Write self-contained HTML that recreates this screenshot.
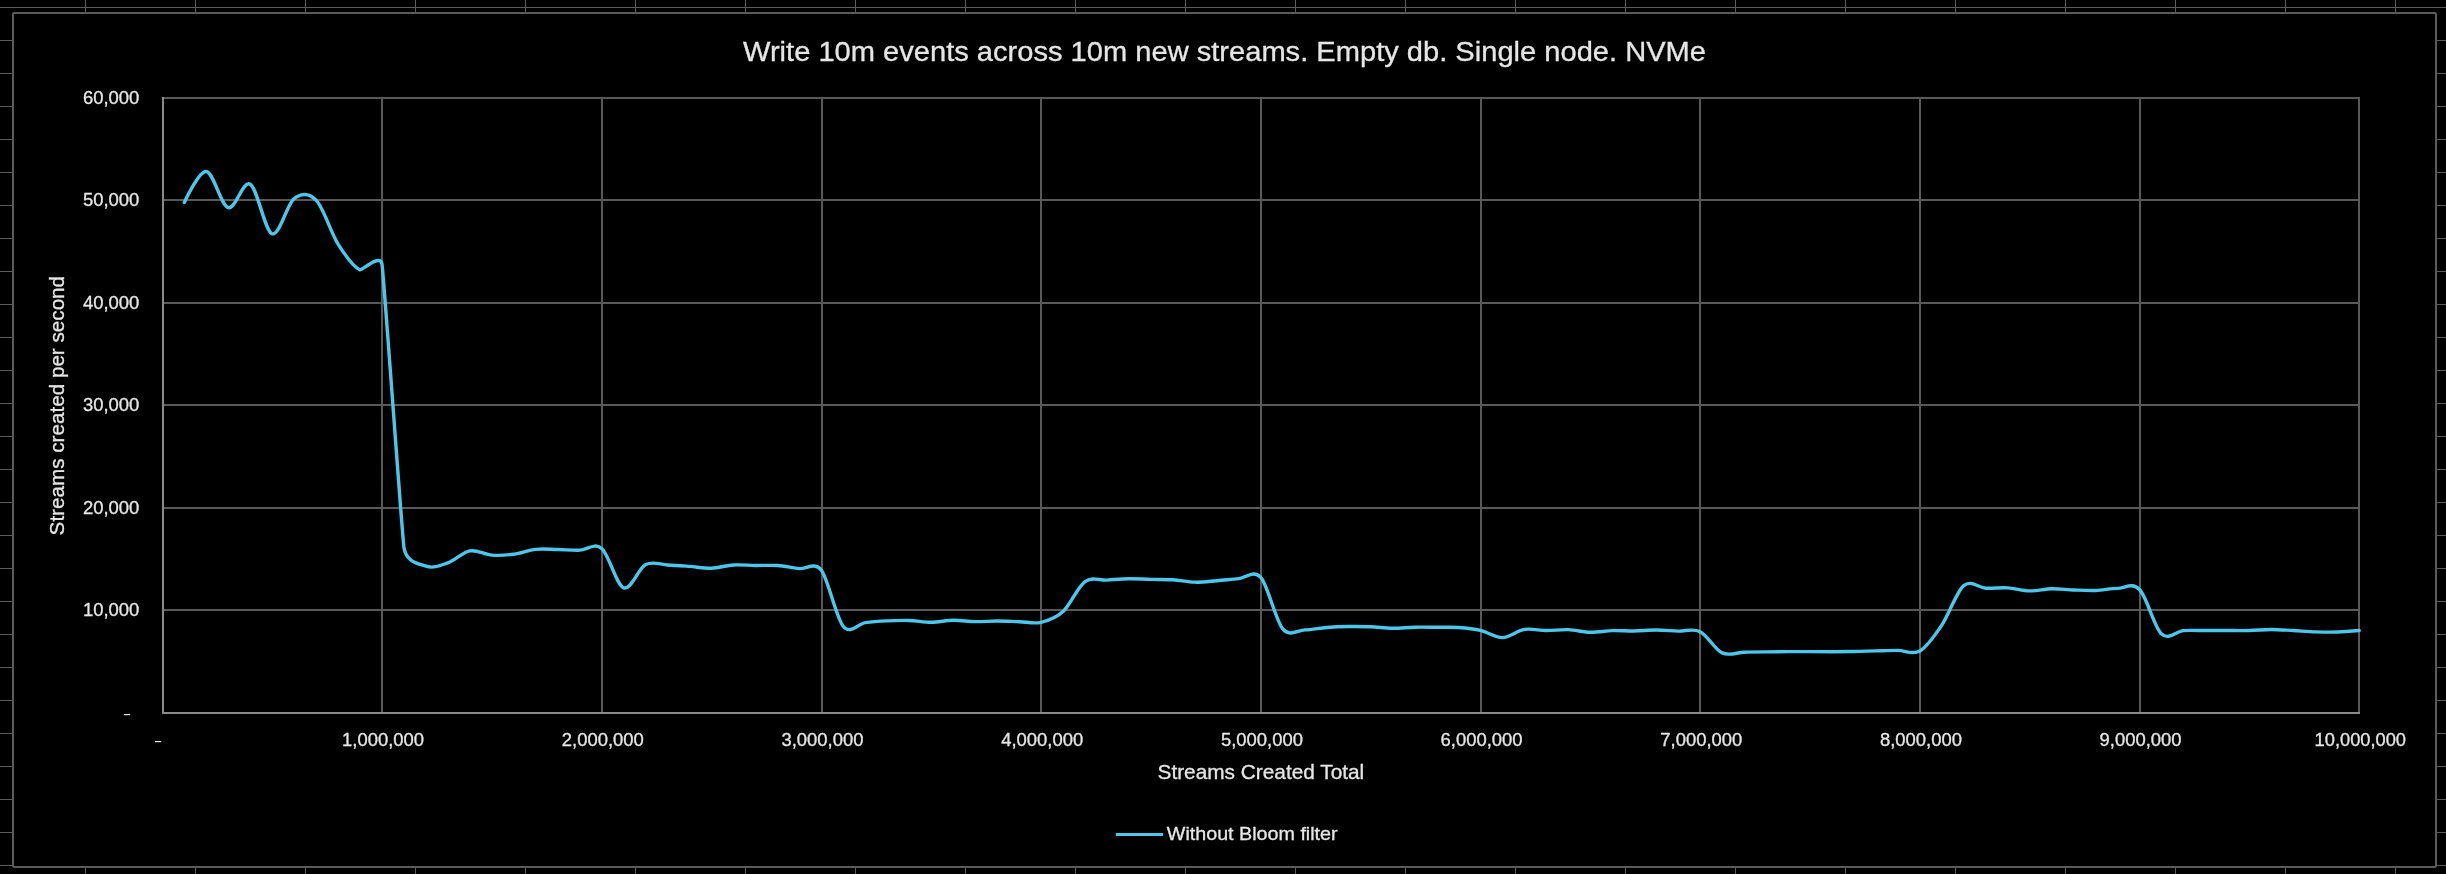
<!DOCTYPE html>
<html><head><meta charset="utf-8"><title>Chart</title>
<style>html,body{margin:0;padding:0;background:#000;overflow:hidden}svg{display:block;will-change:transform}text{font-family:"Liberation Sans", sans-serif;stroke:#e6e6e6;stroke-width:0.3px}</style>
</head><body>
<svg width="2446" height="874" viewBox="0 0 2446 874">
<rect width="2446" height="874" fill="#000"/>
<rect x="0" y="7" width="2446" height="1" fill="#5c5c5c"/>
<rect x="0" y="40" width="2446" height="1" fill="#5c5c5c"/>
<rect x="0" y="73" width="2446" height="1" fill="#5c5c5c"/>
<rect x="0" y="106" width="2446" height="1" fill="#5c5c5c"/>
<rect x="0" y="139" width="2446" height="1" fill="#5c5c5c"/>
<rect x="0" y="172" width="2446" height="1" fill="#5c5c5c"/>
<rect x="0" y="205" width="2446" height="1" fill="#5c5c5c"/>
<rect x="0" y="238" width="2446" height="1" fill="#5c5c5c"/>
<rect x="0" y="271" width="2446" height="1" fill="#5c5c5c"/>
<rect x="0" y="304" width="2446" height="1" fill="#5c5c5c"/>
<rect x="0" y="337" width="2446" height="1" fill="#5c5c5c"/>
<rect x="0" y="370" width="2446" height="1" fill="#5c5c5c"/>
<rect x="0" y="403" width="2446" height="1" fill="#5c5c5c"/>
<rect x="0" y="436" width="2446" height="1" fill="#5c5c5c"/>
<rect x="0" y="469" width="2446" height="1" fill="#5c5c5c"/>
<rect x="0" y="502" width="2446" height="1" fill="#5c5c5c"/>
<rect x="0" y="535" width="2446" height="1" fill="#5c5c5c"/>
<rect x="0" y="568" width="2446" height="1" fill="#5c5c5c"/>
<rect x="0" y="601" width="2446" height="1" fill="#5c5c5c"/>
<rect x="0" y="634" width="2446" height="1" fill="#5c5c5c"/>
<rect x="0" y="667" width="2446" height="1" fill="#5c5c5c"/>
<rect x="0" y="700" width="2446" height="1" fill="#5c5c5c"/>
<rect x="0" y="733" width="2446" height="1" fill="#5c5c5c"/>
<rect x="0" y="766" width="2446" height="1" fill="#5c5c5c"/>
<rect x="0" y="799" width="2446" height="1" fill="#5c5c5c"/>
<rect x="0" y="832" width="2446" height="1" fill="#5c5c5c"/>
<rect x="0" y="865" width="2446" height="1" fill="#5c5c5c"/>
<rect x="85" y="0" width="1" height="874" fill="#5c5c5c"/>
<rect x="195" y="0" width="1" height="874" fill="#5c5c5c"/>
<rect x="305" y="0" width="1" height="874" fill="#5c5c5c"/>
<rect x="415" y="0" width="1" height="874" fill="#5c5c5c"/>
<rect x="525" y="0" width="1" height="874" fill="#5c5c5c"/>
<rect x="635" y="0" width="1" height="874" fill="#5c5c5c"/>
<rect x="745" y="0" width="1" height="874" fill="#5c5c5c"/>
<rect x="855" y="0" width="1" height="874" fill="#5c5c5c"/>
<rect x="965" y="0" width="1" height="874" fill="#5c5c5c"/>
<rect x="1075" y="0" width="1" height="874" fill="#5c5c5c"/>
<rect x="1185" y="0" width="1" height="874" fill="#5c5c5c"/>
<rect x="1295" y="0" width="1" height="874" fill="#5c5c5c"/>
<rect x="1405" y="0" width="1" height="874" fill="#5c5c5c"/>
<rect x="1515" y="0" width="1" height="874" fill="#5c5c5c"/>
<rect x="1625" y="0" width="1" height="874" fill="#5c5c5c"/>
<rect x="1735" y="0" width="1" height="874" fill="#5c5c5c"/>
<rect x="1845" y="0" width="1" height="874" fill="#5c5c5c"/>
<rect x="1955" y="0" width="1" height="874" fill="#5c5c5c"/>
<rect x="2065" y="0" width="1" height="874" fill="#5c5c5c"/>
<rect x="2175" y="0" width="1" height="874" fill="#5c5c5c"/>
<rect x="2285" y="0" width="1" height="874" fill="#5c5c5c"/>
<rect x="2395" y="0" width="1" height="874" fill="#5c5c5c"/>
<rect x="13" y="13" width="2423" height="854" rx="1.2" fill="#000" stroke="#5b5b5b" stroke-width="2"/>
<rect x="162" y="97" width="2198" height="2" fill="#595959"/>
<rect x="162" y="199" width="2198" height="2" fill="#595959"/>
<rect x="162" y="302" width="2198" height="2" fill="#595959"/>
<rect x="162" y="404" width="2198" height="2" fill="#595959"/>
<rect x="162" y="507" width="2198" height="2" fill="#595959"/>
<rect x="162" y="609" width="2198" height="2" fill="#595959"/>
<rect x="162" y="712" width="2198" height="2" fill="#595959"/>
<rect x="381" y="97" width="2" height="617" fill="#595959"/>
<rect x="601" y="97" width="2" height="617" fill="#595959"/>
<rect x="821" y="97" width="2" height="617" fill="#595959"/>
<rect x="1040" y="97" width="2" height="617" fill="#595959"/>
<rect x="1260" y="97" width="2" height="617" fill="#595959"/>
<rect x="1480" y="97" width="2" height="617" fill="#595959"/>
<rect x="1699" y="97" width="2" height="617" fill="#595959"/>
<rect x="1919" y="97" width="2" height="617" fill="#595959"/>
<rect x="2139" y="97" width="2" height="617" fill="#595959"/>
<rect x="2358" y="97" width="2" height="617" fill="#595959"/>
<rect x="162" y="97" width="2" height="617" fill="#8a8a8a"/>
<rect x="162" y="712" width="2198" height="2" fill="#8a8a8a"/>
<text x="743" y="61" font-size="27.5" textLength="963" lengthAdjust="spacingAndGlyphs" fill="#e6e6e6">Write 10m events across 10m new streams. Empty db. Single node. NVMe</text>
<text x="139.4" y="103.9" font-size="17.5" text-anchor="end" textLength="56.5" lengthAdjust="spacingAndGlyphs" fill="#e6e6e6">60,000</text>
<text x="139.4" y="205.9" font-size="17.5" text-anchor="end" textLength="56.5" lengthAdjust="spacingAndGlyphs" fill="#e6e6e6">50,000</text>
<text x="139.4" y="308.9" font-size="17.5" text-anchor="end" textLength="56.5" lengthAdjust="spacingAndGlyphs" fill="#e6e6e6">40,000</text>
<text x="139.4" y="410.9" font-size="17.5" text-anchor="end" textLength="56.5" lengthAdjust="spacingAndGlyphs" fill="#e6e6e6">30,000</text>
<text x="139.4" y="513.9" font-size="17.5" text-anchor="end" textLength="56.5" lengthAdjust="spacingAndGlyphs" fill="#e6e6e6">20,000</text>
<text x="139.4" y="615.9" font-size="17.5" text-anchor="end" textLength="56.5" lengthAdjust="spacingAndGlyphs" fill="#e6e6e6">10,000</text>
<rect x="124" y="714" width="6.2" height="1.2" fill="#e6e6e6"/>
<text x="383.1" y="746" font-size="17.5" text-anchor="middle" textLength="82.0" lengthAdjust="spacingAndGlyphs" fill="#e6e6e6">1,000,000</text>
<text x="602.8" y="746" font-size="17.5" text-anchor="middle" textLength="82.0" lengthAdjust="spacingAndGlyphs" fill="#e6e6e6">2,000,000</text>
<text x="822.5" y="746" font-size="17.5" text-anchor="middle" textLength="82.0" lengthAdjust="spacingAndGlyphs" fill="#e6e6e6">3,000,000</text>
<text x="1042.2" y="746" font-size="17.5" text-anchor="middle" textLength="82.0" lengthAdjust="spacingAndGlyphs" fill="#e6e6e6">4,000,000</text>
<text x="1261.9" y="746" font-size="17.5" text-anchor="middle" textLength="82.0" lengthAdjust="spacingAndGlyphs" fill="#e6e6e6">5,000,000</text>
<text x="1481.6" y="746" font-size="17.5" text-anchor="middle" textLength="82.0" lengthAdjust="spacingAndGlyphs" fill="#e6e6e6">6,000,000</text>
<text x="1701.3" y="746" font-size="17.5" text-anchor="middle" textLength="82.0" lengthAdjust="spacingAndGlyphs" fill="#e6e6e6">7,000,000</text>
<text x="1920.9" y="746" font-size="17.5" text-anchor="middle" textLength="82.0" lengthAdjust="spacingAndGlyphs" fill="#e6e6e6">8,000,000</text>
<text x="2140.6" y="746" font-size="17.5" text-anchor="middle" textLength="82.0" lengthAdjust="spacingAndGlyphs" fill="#e6e6e6">9,000,000</text>
<text x="2360.3" y="746" font-size="17.5" text-anchor="middle" textLength="91.4" lengthAdjust="spacingAndGlyphs" fill="#e6e6e6">10,000,000</text>
<rect x="155" y="741" width="6.2" height="1.2" fill="#e6e6e6"/>
<text x="1157.5" y="779.4" font-size="20.3" textLength="206.7" lengthAdjust="spacingAndGlyphs" fill="#e6e6e6">Streams Created Total</text>
<text transform="translate(64,535.4) rotate(-90)" x="0" y="0" font-size="20.3" textLength="259.5" lengthAdjust="spacingAndGlyphs" fill="#e6e6e6">Streams created per second</text>
<line x1="1115.8" y1="834.6" x2="1163" y2="834.6" stroke="#4cc7e9" stroke-width="3.0"/>
<text x="1166.8" y="839.5" font-size="17.8" textLength="170.8" lengthAdjust="spacingAndGlyphs" fill="#e6e6e6">Without Bloom filter</text>
<path d="M184.30,202.50 C184.30,202.50 198.95,170.64 206.27,171.49 C213.59,172.34 220.91,205.47 228.24,207.59 C235.56,209.71 242.88,179.85 250.21,184.22 C257.53,188.59 264.85,231.39 272.18,233.79 C279.50,236.19 286.82,204.19 294.14,198.59 C301.47,192.99 308.79,192.60 316.11,200.18 C323.44,207.76 330.76,232.42 338.08,244.05 C345.40,255.68 352.73,266.61 360.05,269.97 C361.82,270.78 380.25,253.00 382.02,264.22 C383.79,275.44 401.93,533.66 403.99,547.83 C406.05,562.00 418.63,563.68 425.96,566.19 C433.28,568.70 440.60,565.42 447.93,562.87 C455.25,560.32 462.57,552.17 469.90,550.88 C477.22,549.59 484.54,554.57 491.87,555.12 C499.19,555.67 506.51,555.17 513.83,554.21 C521.16,553.25 528.48,550.13 535.80,549.35 C543.13,548.57 550.45,549.40 557.77,549.54 C565.10,549.68 572.42,550.34 579.74,550.17 C587.06,550.00 594.39,542.22 601.71,548.50 C609.03,554.78 616.36,585.16 623.68,587.84 C631.00,590.52 638.33,568.40 645.65,564.58 C652.97,560.76 660.29,564.63 667.62,564.93 C674.94,565.23 682.26,565.82 689.59,566.36 C696.91,566.90 704.23,568.43 711.56,568.19 C718.88,567.95 726.20,565.38 733.52,564.93 C740.85,564.48 748.17,565.40 755.49,565.50 C762.82,565.60 770.14,565.03 777.46,565.55 C784.78,566.07 792.11,567.83 799.43,568.60 C806.09,569.30 814.74,561.42 821.40,570.20 C828.06,578.98 836.20,617.98 843.37,626.53 C850.54,635.08 858.02,623.52 865.34,622.58 C872.66,621.64 879.98,621.22 887.31,620.87 C894.63,620.52 901.95,620.25 909.28,620.49 C916.60,620.73 923.92,622.34 931.25,622.31 C938.57,622.28 945.89,620.42 953.21,620.31 C960.54,620.20 967.86,621.54 975.18,621.65 C982.51,621.76 989.83,620.99 997.15,620.99 C1004.47,621.00 1011.80,621.46 1019.12,621.68 C1026.44,621.90 1033.77,623.98 1041.09,622.30 C1048.41,620.62 1055.74,618.38 1063.06,611.58 C1070.38,604.78 1077.70,586.76 1085.03,581.51 C1092.35,576.26 1099.67,580.55 1107.00,580.08 C1114.32,579.62 1121.64,578.84 1128.97,578.72 C1136.29,578.60 1143.61,579.20 1150.93,579.37 C1158.26,579.54 1165.58,579.25 1172.90,579.72 C1180.23,580.19 1187.55,582.00 1194.87,582.17 C1202.20,582.34 1209.52,581.31 1216.84,580.72 C1224.16,580.13 1231.49,579.17 1238.81,578.63 C1246.05,578.09 1253.54,569.17 1260.78,577.45 C1267.84,585.52 1275.69,620.43 1282.75,628.86 C1289.81,637.29 1297.39,630.15 1304.72,629.92 C1312.04,629.69 1319.36,628.06 1326.69,627.49 C1334.01,626.92 1341.33,626.63 1348.66,626.51 C1355.98,626.39 1363.30,626.49 1370.62,626.77 C1377.95,627.05 1385.27,628.12 1392.59,628.19 C1399.92,628.26 1407.24,627.35 1414.56,627.19 C1421.89,627.03 1429.21,627.20 1436.53,627.25 C1443.86,627.30 1451.18,626.99 1458.50,627.51 C1465.82,628.03 1473.15,628.69 1480.47,630.37 C1487.79,632.05 1495.12,637.77 1502.44,637.61 C1509.76,637.45 1517.08,630.59 1524.41,629.42 C1531.73,628.25 1539.05,630.53 1546.38,630.57 C1553.70,630.61 1561.02,629.36 1568.35,629.64 C1575.67,629.92 1582.99,632.11 1590.32,632.28 C1597.64,632.45 1604.96,630.89 1612.28,630.67 C1619.61,630.45 1626.93,631.06 1634.25,630.96 C1641.58,630.86 1648.90,630.02 1656.22,630.05 C1663.55,630.08 1670.87,630.85 1678.19,631.12 C1685.51,631.39 1692.84,628.06 1700.16,631.69 C1707.48,635.32 1714.81,649.46 1722.13,652.88 C1729.45,656.30 1736.78,652.38 1744.10,652.22 C1751.42,652.06 1758.74,651.98 1766.07,651.89 C1773.39,651.80 1780.71,651.72 1788.04,651.67 C1795.36,651.62 1802.68,651.59 1810.00,651.59 C1817.33,651.60 1824.65,651.71 1831.97,651.70 C1839.30,651.69 1846.62,651.64 1853.94,651.51 C1861.27,651.38 1868.59,651.07 1875.91,650.89 C1883.23,650.71 1890.56,650.40 1897.88,650.41 C1905.20,650.42 1912.53,655.19 1919.85,650.97 C1927.17,646.75 1934.50,636.01 1941.82,625.12 C1949.14,614.23 1956.46,591.75 1963.79,585.60 C1971.11,579.45 1978.43,587.83 1985.76,588.20 C1993.08,588.57 2000.40,587.39 2007.73,587.84 C2015.05,588.29 2022.37,590.76 2029.70,590.91 C2037.02,591.05 2044.34,588.87 2051.66,588.71 C2058.99,588.55 2066.31,589.67 2073.63,589.96 C2080.96,590.25 2088.28,590.70 2095.60,590.44 C2102.93,590.18 2110.25,588.57 2117.57,588.41 C2124.89,588.25 2132.22,581.88 2139.54,589.47 C2146.86,597.06 2154.19,627.10 2161.51,633.95 C2168.83,640.81 2176.16,631.16 2183.48,630.60 C2190.80,630.04 2198.12,630.58 2205.45,630.57 C2212.77,630.56 2220.09,630.54 2227.42,630.53 C2234.74,630.52 2242.06,630.68 2249.38,630.50 C2256.71,630.32 2264.03,629.42 2271.35,629.43 C2278.68,629.44 2286.00,630.13 2293.32,630.54 C2300.65,630.94 2307.97,631.61 2315.29,631.86 C2322.61,632.11 2329.94,632.27 2337.26,632.05 C2344.58,631.83 2359.23,630.55 2359.23,630.55" fill="none" stroke="#4cc7e9" stroke-width="3.4" stroke-linecap="round" stroke-linejoin="round"/>
</svg>
</body></html>
